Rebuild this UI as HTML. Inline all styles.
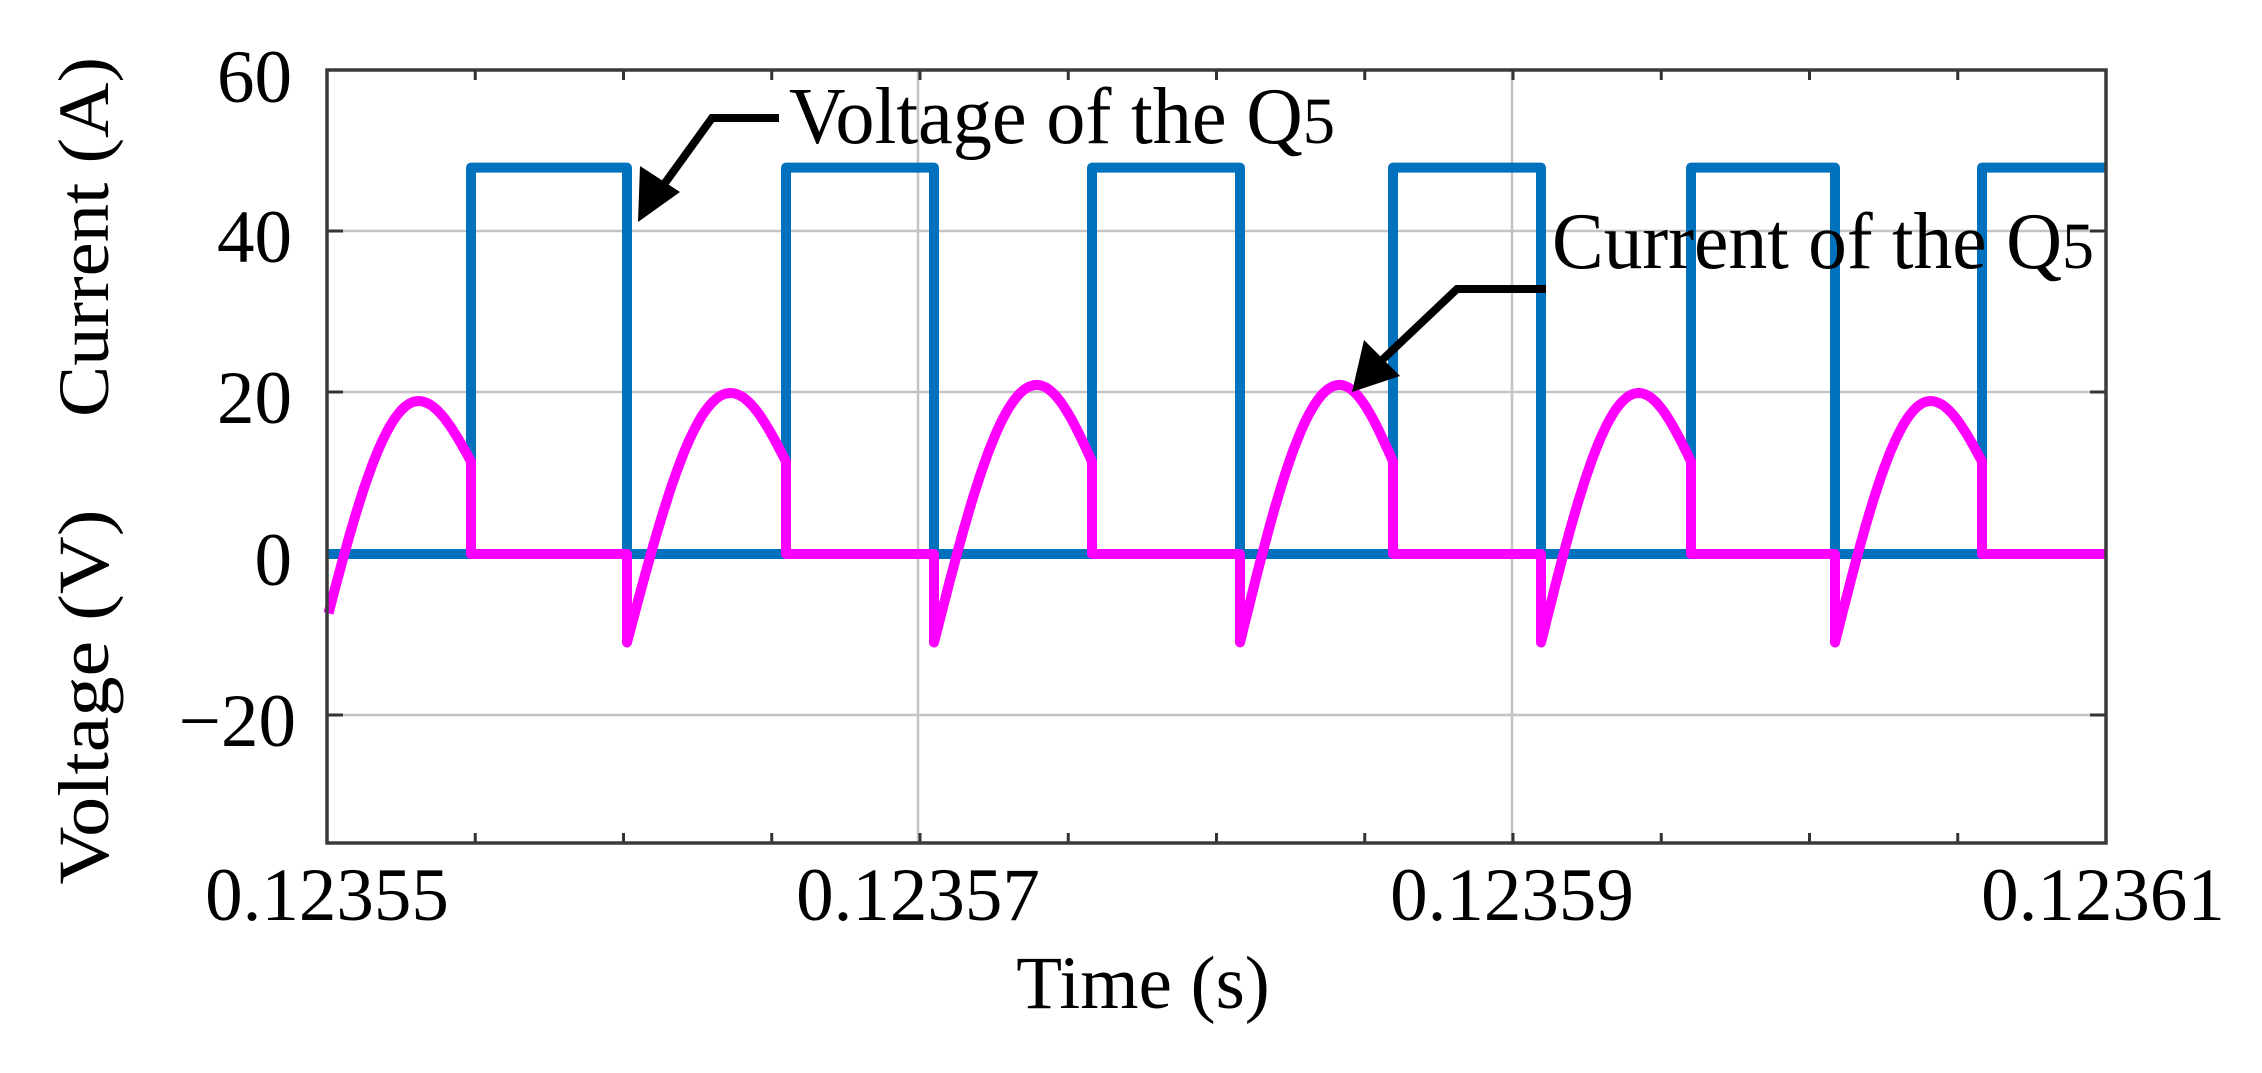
<!DOCTYPE html>
<html><head><meta charset="utf-8"><style>
html,body{margin:0;padding:0;background:#fff;}
svg{display:block;}
text{font-family:"Liberation Serif","Times New Roman",serif;fill:#000;}
</style></head><body>
<svg id="s" width="2262" height="1073" viewBox="0 0 2262 1073" xmlns="http://www.w3.org/2000/svg">
<g stroke="#c4c4c4" stroke-width="2.5">
<line x1="327" y1="231" x2="2106" y2="231"/>
<line x1="327" y1="392" x2="2106" y2="392"/>
<line x1="327" y1="554" x2="2106" y2="554"/>
<line x1="327" y1="715" x2="2106" y2="715"/>
<line x1="918" y1="70" x2="918" y2="843"/>
<line x1="1512" y1="70" x2="1512" y2="843"/>
</g>
<g id="ticks" stroke="#333" stroke-width="3"></g>
<path id="blue" fill="none" stroke="#0072BD" stroke-width="10" stroke-linejoin="round"/>
<path id="pink" fill="none" stroke="#FF00FF" stroke-width="10" stroke-linejoin="round"/>
<rect x="327" y="70" width="1779" height="773" fill="none" stroke="#3a3a3a" stroke-width="3.5"/>
<g font-size="75" text-anchor="end">
<text x="292" y="102">60</text>
<text x="292" y="262">40</text>
<text x="292" y="423">20</text>
<text x="292" y="585">0</text>
<text x="296" y="746">−20</text>
</g>
<g font-size="75" text-anchor="middle">
<text x="327" y="920">0.12355</text>
<text x="918" y="920">0.12357</text>
<text x="1512" y="920">0.12359</text>
<text x="2103" y="920">0.12361</text>
<text x="1143" y="1008">Time (s)</text>
</g>
<g font-size="72" text-anchor="middle">
<text transform="translate(108,237) rotate(-90)" textLength="360" lengthAdjust="spacingAndGlyphs">Current (A)</text>
<text transform="translate(108,697) rotate(-90)" textLength="375" lengthAdjust="spacingAndGlyphs">Voltage (V)</text>
</g>
<text x="789" y="143" font-size="80" textLength="546" lengthAdjust="spacingAndGlyphs">Voltage of the Q<tspan font-size="66">5</tspan></text>
<text x="1552" y="268" font-size="80" textLength="542" lengthAdjust="spacingAndGlyphs">Current of the Q<tspan font-size="66">5</tspan></text>
<g stroke="#000" stroke-width="8" fill="none">
<polyline points="779,118 712,118 660,190"/>
<polyline points="1546,289 1457,289 1380,362"/>
</g>
<polygon points="638,222 640,166 680,192" fill="#000"/>
<polygon points="1352,392 1364,340 1400,376" fill="#000"/>
</svg>
<script>
var Y=function(v){return 554-v*8.05;};
var rise=[471,786,1092,1393,1691,1982], fall=[321,627,934,1240,1541,1835];
var peaks=[19,20,21,21,20,19], endv=[11.5,11.5,11.5,11.5,11.5,11.5];
var hi=Y(48), lo=Y(0);
var b="M327,"+lo+" L471,"+lo;
for(var i=0;i<6;i++){b+=" L"+rise[i]+","+hi; if(i<5){b+=" L"+fall[i+1]+","+hi+" L"+fall[i+1]+","+lo+" L"+rise[i+1]+","+lo;} else b+=" L2106,"+hi;}
document.getElementById("blue").setAttribute("d",b);
var p="";
for(var i=0;i<6;i++){
 var f=fall[i], r=rise[i], P=peaks[i], E=endv[i], sp=0.65;
 if(i>0){p+=" L"+f+","+lo;}
 for(var k=0;k<=80;k++){
  var s=k/80, x=f+(r-f)*s; if(x<327) continue;
  var v = s<sp ? P-(P+11)*(1-Math.sin(Math.PI/2*s/sp)) : P-(P-E)*(1-Math.cos(Math.PI/2*(s-sp)/(1-sp)));
  p+=(p===""?"M":" L")+x.toFixed(1)+","+Y(v).toFixed(1);
 }
 p+=" L"+r+","+lo;
 var nx = i<5?fall[i+1]:2106; p+=" L"+nx+","+lo;
}
document.getElementById("pink").setAttribute("d",p);
var t="";
for(var k=1;k<12;k++){var x=327+k*148.25;t+='<line x1="'+x+'" y1="70" x2="'+x+'" y2="80"/><line x1="'+x+'" y1="843" x2="'+x+'" y2="833"/>';}
[231,392,554,715].forEach(function(y){t+='<line x1="327" y1="'+y+'" x2="343" y2="'+y+'"/><line x1="2106" y1="'+y+'" x2="2090" y2="'+y+'"/>';});
document.getElementById("ticks").innerHTML=t;
</script>
</body></html>
